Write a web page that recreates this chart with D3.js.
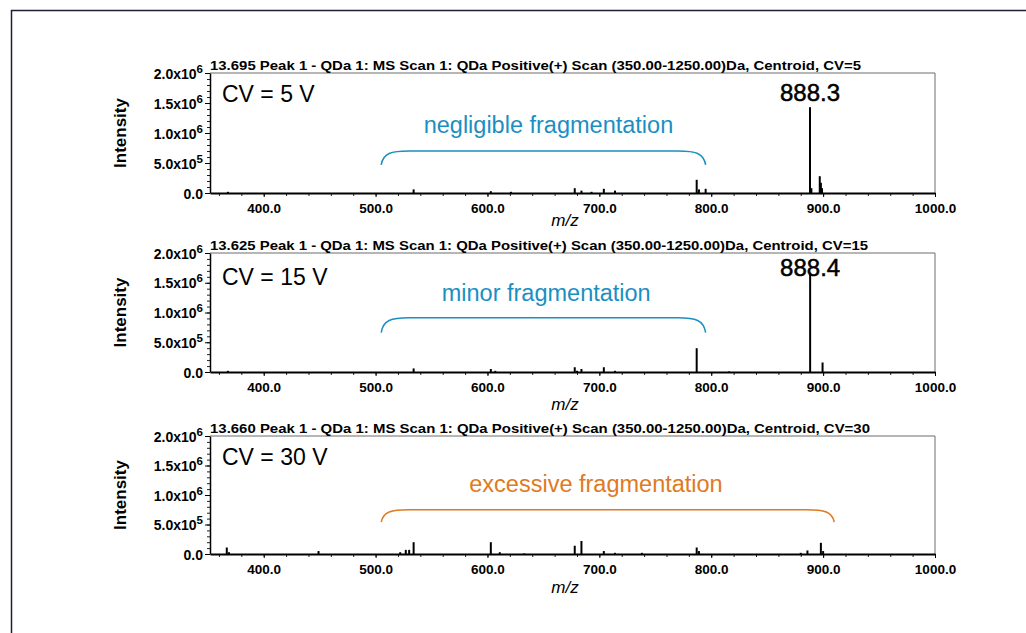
<!DOCTYPE html>
<html>
<head>
<meta charset="utf-8">
<script src="https://cdn.jsdelivr.net/npm/d3@7/dist/d3.min.js"></script>
<style>
  html, body { margin: 0; padding: 0; background: #ffffff; }
  svg { display: block; font-family: "Liberation Sans", Arial, sans-serif; }
</style>
</head>
<body>
<svg id="chart" width="1026" height="633"></svg>
<script>
// ---- Spectra (m/z, intensity) ----
const cv5Mz  = [368, 534, 603, 621, 678, 684, 693, 704, 714, 787, 789, 795, 888.3, 889.5, 897, 898, 899];
const cv5Int = [0.02e6, 0.06e6, 0.03e6, 0.02e6, 0.08e6, 0.04e6, 0.02e6, 0.07e6, 0.04e6, 0.22e6, 0.06e6, 0.07e6, 1.43e6, 0.08e6, 0.28e6, 0.17e6, 0.08e6];

const cv15Mz  = [368, 534, 603, 607, 678, 680, 684, 704, 714, 787, 816, 888.4, 899.5];
const cv15Int = [0.02e6, 0.06e6, 0.05e6, 0.02e6, 0.08e6, 0.02e6, 0.05e6, 0.08e6, 0.02e6, 0.40e6, 0.01e6, 1.67e6, 0.16e6];

const cv30Mz  = [367, 369, 449, 522, 527, 530, 534, 603, 611, 633, 678, 684, 704, 714, 738, 787, 789, 880, 886, 898, 900];
const cv30Int = [0.11e6, 0.03e6, 0.05e6, 0.03e6, 0.07e6, 0.07e6, 0.20e6, 0.20e6, 0.03e6, 0.01e6, 0.14e6, 0.22e6, 0.05e6, 0.02e6, 0.02e6, 0.11e6, 0.05e6, 0.02e6, 0.06e6, 0.19e6, 0.05e6];

// ---- Panel texts ----
const scanTitles = [
  "13.695 Peak 1 - QDa 1: MS Scan 1: QDa Positive(+) Scan (350.00-1250.00)Da, Centroid, CV=5",
  "13.625 Peak 1 - QDa 1: MS Scan 1: QDa Positive(+) Scan (350.00-1250.00)Da, Centroid, CV=15",
  "13.660 Peak 1 - QDa 1: MS Scan 1: QDa Positive(+) Scan (350.00-1250.00)Da, Centroid, CV=30"
];
const cvLabels = ["CV = 5 V", "CV = 15 V", "CV = 30 V"];
const notes = ["negligible fragmentation", "minor fragmentation", "excessive fragmentation"];
const noteKinds = ["ok", "ok", "bad"];
// note centre and bracket span in m/z, heights in intensity units
const noteAt    = [654.5, 652.5, 697];
const braceFrom = [505, 505, 505];
const braceTo   = [795, 795, 910];
const braceTop  = [0.70e6, 0.91e6, 0.75e6];
const braceEnd  = [0.47e6, 0.66e6, 0.54e6];
const noteLevel = [1.00e6, 1.19e6, 1.05e6];
// base peak label (m/z of the labelled peak); null when not labelled
const basePeak = [888.3, 888.4, null];

// ---- Axis ticks ----
const mzDomain = [352, 1000];
const mzTicks = [400, 500, 600, 700, 800, 900, 1000];
const mzTickLabels = ["400.0", "500.0", "600.0", "700.0", "800.0", "900.0", "1000.0"];
const intDomain = [0, 2.0e6];
const intTicks = [0, 0.5e6, 1.0e6, 1.5e6, 2.0e6];
const intTickMantissa = ["0.0", "5.0", "1.0", "1.5", "2.0"];
const intTickExponent = [null, "5", "6", "6", "6"];

const spectra = [
  { mz: cv5Mz, y: cv5Int },
  { mz: cv15Mz, y: cv15Int },
  { mz: cv30Mz, y: cv30Int }
];

// ---- Layout ----
const panels = [
  { top: 73,  bottom: 193, cvDy: 29, mzDy: 33, titleW: 651 },
  { top: 253, bottom: 372, cvDy: 32, mzDy: 38, titleW: 658 },
  { top: 436, bottom: 554, cvDy: 29, mzDy: 39, titleW: 660 }
];
const left = 210, right = 935;
const noteColor = { ok: "#1b8fc2", bad: "#e07a22" };

const svg = d3.select("#chart");

// outer frame
svg.append("rect")
  .attr("x", 11.5).attr("y", 10.5)
  .attr("width", 1040).attr("height", 640)
  .attr("fill", "none").attr("stroke", "#1d1d33").attr("stroke-width", 1.5);

const x = d3.scaleLinear().domain(mzDomain).range([left, right]);

panels.forEach((p, i) => {
  const y = d3.scaleLinear().domain(intDomain).range([p.bottom, p.top]);
  const g = svg.append("g");

  // plot frame (top & right)
  g.append("path")
    .attr("d", `M${left},${p.top}H${right}V${p.bottom}`)
    .attr("fill", "none").attr("stroke", "#6d6d6d").attr("stroke-width", 1);

  // x axis: minor ticks every 20, major every 100
  const xMinor = g.append("g").attr("transform", `translate(0,${p.bottom})`)
    .call(d3.axisBottom(x).tickValues(d3.range(360, 1001, 20)).tickSize(3).tickFormat(""));
  xMinor.select(".domain").remove();
  xMinor.selectAll("line").attr("stroke", "#222");

  const xAxis = g.append("g").attr("transform", `translate(0,${p.bottom})`)
    .call(d3.axisBottom(x).tickValues(mzTicks).tickSize(4).tickSizeOuter(0)
      .tickFormat((d, k) => mzTickLabels[k]));
  xAxis.select(".domain").attr("stroke", "#000").attr("stroke-width", 2);
  xAxis.selectAll("line").attr("stroke", "#000");
  xAxis.selectAll("text")
    .attr("y", 10).attr("dy", "0.71em")
    .attr("fill", "#000")
    .style("font-family", "'Liberation Sans', Arial, sans-serif")
    .style("font-size", "13.5px").style("font-weight", "bold");

  // y axis: minor ticks every 1e5
  const yMinor = g.append("g").attr("transform", `translate(${left},0)`)
    .call(d3.axisLeft(y).tickValues(d3.range(0, 2.0e6 + 1, 1e5)).tickSize(3).tickFormat(""));
  yMinor.select(".domain").remove();
  yMinor.selectAll("line").attr("stroke", "#222");

  const yAxis = g.append("g").attr("transform", `translate(${left},0)`)
    .call(d3.axisLeft(y).tickValues(intTicks).tickSize(5).tickSizeOuter(0).tickFormat(""));
  yAxis.select(".domain").attr("stroke", "#000").attr("stroke-width", 1.5);
  yAxis.selectAll("line").attr("stroke", "#000");
  yAxis.selectAll(".tick").each(function (d, k) {
    const t = d3.select(this).append("text")
      .attr("x", -7).attr("y", 5)
      .attr("text-anchor", "end").attr("fill", "#000")
      .style("font-size", "14px").style("font-weight", "bold");
    if (intTickExponent[k]) {
      t.append("tspan").text(intTickMantissa[k] + "x10");
      t.append("tspan").attr("dy", -6).style("font-size", "11.5px").text(intTickExponent[k]);
    } else {
      t.text(intTickMantissa[k]);
    }
  });

  // axis titles
  g.append("text")
    .attr("transform", `translate(126,${(p.top + p.bottom) / 2}) rotate(-90)`)
    .attr("text-anchor", "middle").attr("fill", "#000")
    .style("font-size", "17px").style("font-weight", "bold")
    .text("Intensity");
  g.append("text")
    .attr("x", 565).attr("y", p.bottom + p.mzDy)
    .attr("text-anchor", "middle").attr("fill", "#000")
    .style("font-size", "17px").style("font-style", "italic")
    .text("m/z");

  // scan title
  g.append("text")
    .attr("x", left).attr("y", p.top - 3)
    .attr("fill", "#000")
    .attr("textLength", p.titleW).attr("lengthAdjust", "spacingAndGlyphs")
    .style("font-size", "13.5px").style("font-weight", "bold")
    .text(scanTitles[i]);

  // centroid sticks
  const s = spectra[i];
  g.append("g").selectAll("line")
    .data(s.mz.map((m, k) => ({ m, v: s.y[k] })))
    .join("line")
    .attr("x1", d => x(d.m)).attr("x2", d => x(d.m))
    .attr("y1", y(0)).attr("y2", d => y(d.v))
    .attr("stroke", "#000").attr("stroke-width", 2);

  // CV label
  g.append("text")
    .attr("x", 222).attr("y", p.top + p.cvDy)
    .attr("fill", "#000")
    .style("font-size", "23px")
    .text(cvLabels[i]);

  // base peak label
  if (basePeak[i] !== null) {
    const k = s.mz.indexOf(basePeak[i]);
    const ly = Math.max(y(s.y[k]) - 6, p.top + 23);
    g.append("text")
      .attr("x", x(basePeak[i])).attr("y", ly)
      .attr("text-anchor", "middle").attr("fill", "#000")
      .attr("stroke", "#000").attr("stroke-width", 0.5)
      .style("font-size", "24px")
      .text(d3.format(".1f")(basePeak[i]));
  }

  // fragmentation note with bracket
  const col = noteColor[noteKinds[i]];
  const x0 = x(braceFrom[i]), x1 = x(braceTo[i]);
  const yt = y(braceTop[i]), ye = y(braceEnd[i]);
  const rx = 28;
  const path = d3.path();
  path.moveTo(x0, ye);
  path.bezierCurveTo(x0 + 2, yt + 2, x0 + 10, yt, x0 + rx, yt);
  path.lineTo(x1 - rx, yt);
  path.bezierCurveTo(x1 - 10, yt, x1 - 2, yt + 2, x1, ye);
  g.append("path").attr("d", path.toString())
    .attr("fill", "none").attr("stroke", col).attr("stroke-width", 1.5);

  g.append("text")
    .attr("x", x(noteAt[i])).attr("y", y(noteLevel[i]))
    .attr("text-anchor", "middle").attr("fill", col)
    .style("font-size", "23.5px")
    .text(notes[i]);
});
</script>
</body>
</html>
